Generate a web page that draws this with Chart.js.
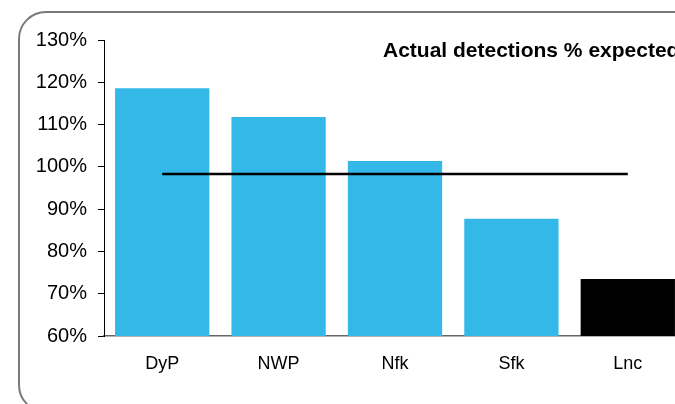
<!DOCTYPE html>
<html>
<head>
<meta charset="utf-8">
<script src="https://cdn.jsdelivr.net/npm/chart.js@4/dist/chart.umd.min.js"></script>
<style>
	html, body { margin: 0; padding: 0; background: #fff; overflow: hidden; width: 675px; height: 404px; }
	#frame {
		position: absolute; left: 18px; top: 11px; width: 720px; height: 398px;
		border: 2px solid #7a7a7a; border-radius: 28px;
	}
	#wrap { position: absolute; left: 0; top: 0; }
</style>
</head>
<body>
<div id="frame"></div>
<div id="wrap"><canvas id="chart" width="710" height="404"></canvas></div>
<script>
// ---- data ----
var areas = ['DyP', 'NWP', 'Nfk', 'Sfk', 'Lnc'];
var detectionsPct = [118.6, 111.8, 101.4, 87.7, 73.5];
var barColors = ['#33b8e8', '#33b8e8', '#33b8e8', '#33b8e8', '#000000'];
var averagePct = [98.3, 98.3, 98.3, 98.3, 98.3];
var yTicks = [60, 70, 80, 90, 100, 110, 120, 130];
var chartTitle = 'Actual detections % expected';

var fontFamily = "'Liberation Sans', Arial, Helvetica, sans-serif";

// title sits inside the plot area, over the right-hand bars
var titlePlugin = {
	id: 'insideTitle',
	afterDraw: function(chart) {
		var ctx = chart.ctx;
		ctx.save();
		ctx.font = 'bold 21px ' + fontFamily;
		ctx.fillStyle = '#000';
		ctx.textBaseline = 'alphabetic';
		ctx.textAlign = 'left';
		ctx.fillText(chartTitle, chart.chartArea.left + 279, chart.chartArea.top + 17);
		ctx.restore();
	}
};

var ctx = document.getElementById('chart');

new Chart(ctx, {
	type: 'bar',
	data: {
		labels: areas,
		datasets: [
			{
				type: 'line',
				data: averagePct,
				borderColor: '#000',
				borderWidth: 2.5,
				pointRadius: 0,
				fill: false,
				order: 0
			},
			{
				data: detectionsPct,
				backgroundColor: barColors,
				categoryPercentage: 1,
				barPercentage: 0.81,
				order: 1
			}
		]
	},
	options: {
		responsive: false,
		animation: false,
		devicePixelRatio: 1,
		layout: { padding: { top: 40, right: 24, left: 0, bottom: 0 } },
		plugins: {
			legend: { display: false },
			tooltip: { enabled: false },
			title: { display: false }
		},
		scales: {
			x: {
				grid: { display: false, drawTicks: false },
				border: { display: true, color: '#666', width: 1.5 },
				ticks: { color: '#000', padding: 17, font: { family: fontFamily, size: 18 } },
				afterFit: function(s) { s.height = 68; }
			},
			y: {
				min: 60,
				max: 130,
				afterBuildTicks: function(s) { s.ticks = yTicks.map(function(v) { return { value: v }; }); },
				grid: { drawOnChartArea: false, drawTicks: true, tickLength: 6, color: '#000' },
				border: { display: true, color: '#000', width: 1 },
				ticks: {
					color: '#000',
					padding: 11,
					font: { family: fontFamily, size: 20 },
					callback: function(v) { return v + '%'; }
				},
				afterFit: function(s) { s.width = 104; }
			}
		}
	},
	plugins: [titlePlugin]
});
</script>
</body>
</html>
